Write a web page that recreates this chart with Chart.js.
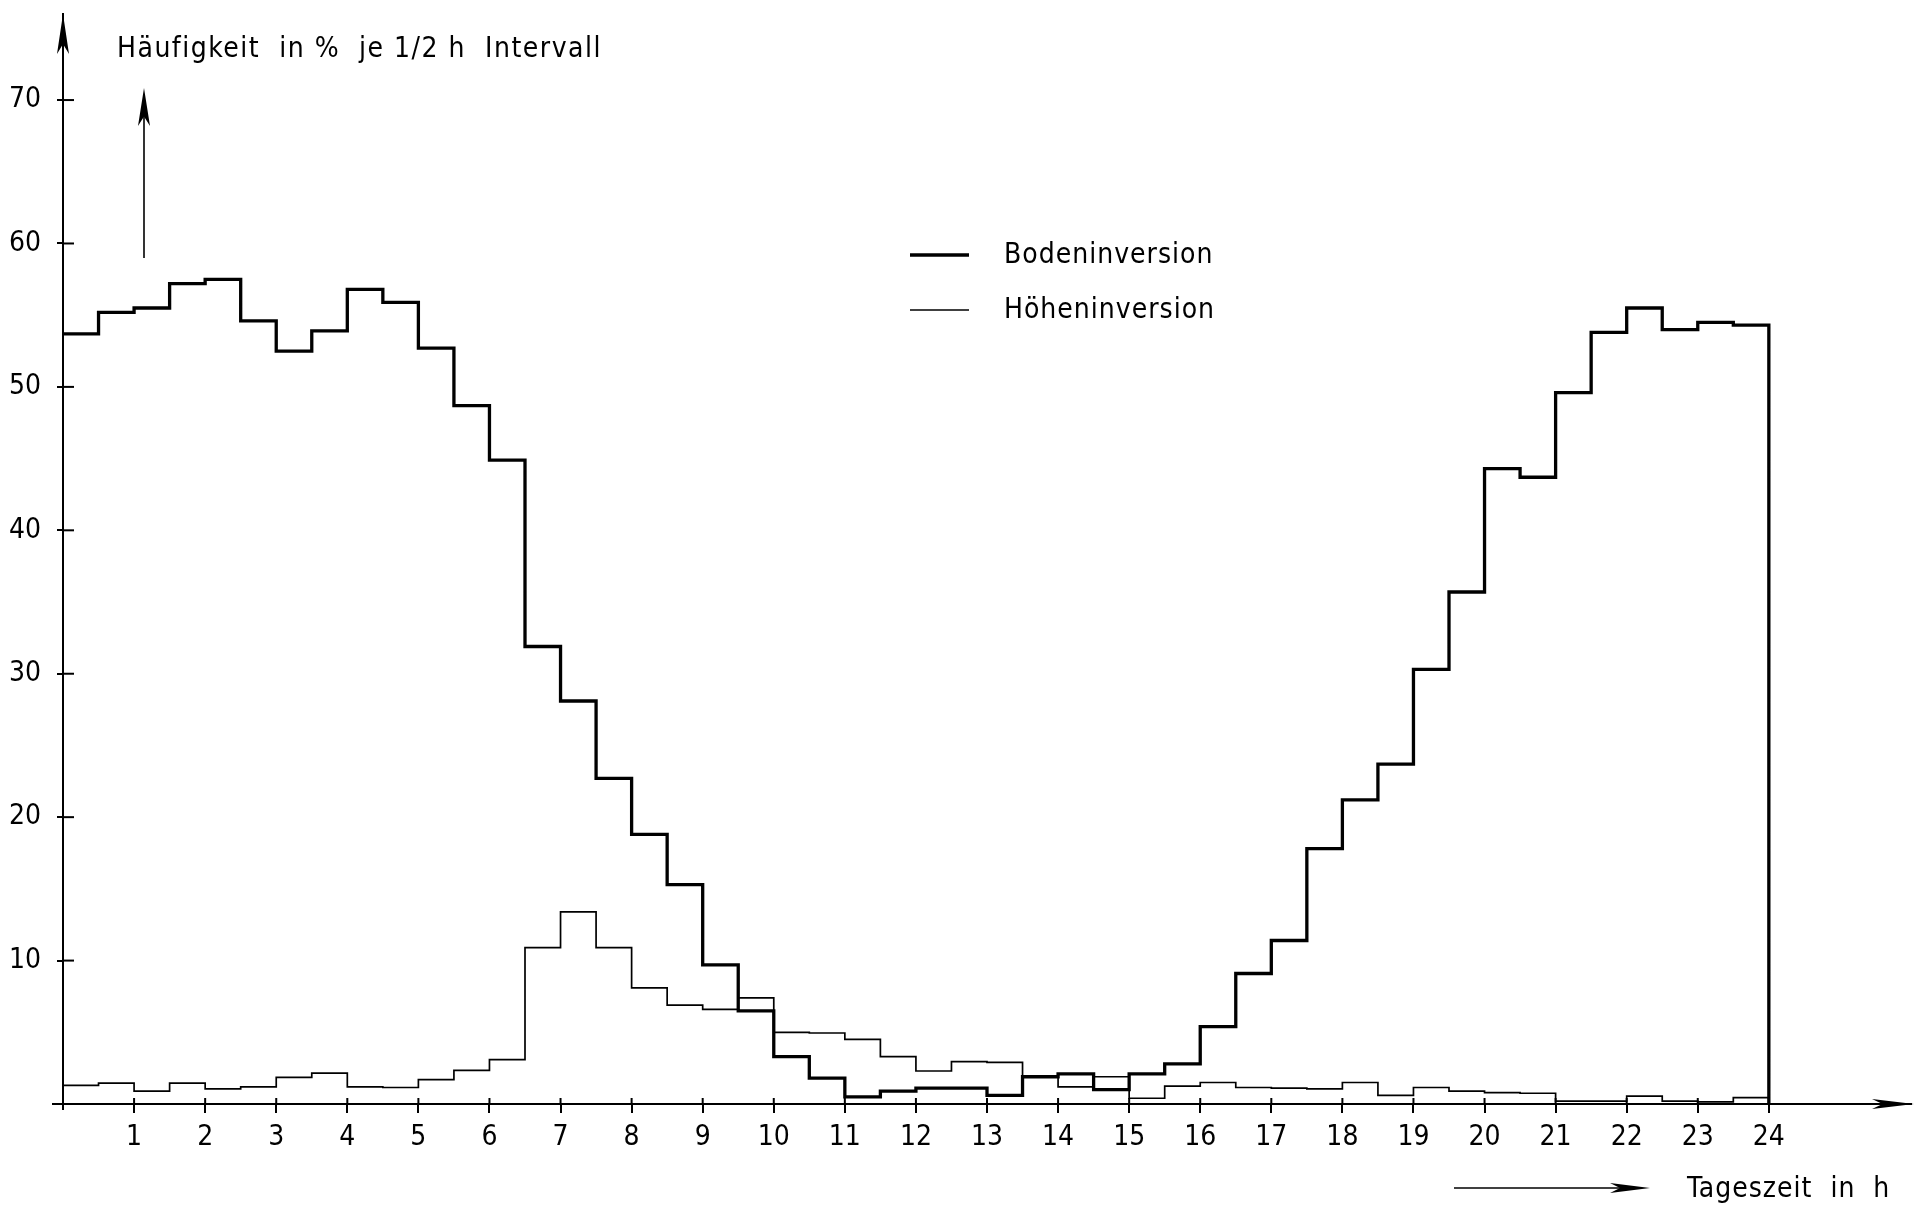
<!DOCTYPE html>
<html>
<head>
<meta charset="utf-8">
<script src="https://cdn.jsdelivr.net/npm/chart.js@4.4.1/dist/chart.umd.min.js"></script>
<style>
  html, body { margin: 0; padding: 0; background: #fff; }
  #wrap { width: 1924px; height: 1208px; }
</style>
</head>
<body>
<div id="wrap"><canvas id="myChart" width="1924" height="1208"></canvas></div>
<script>
// tick labels
const hourTicks = [1, 2, 3, 4, 5, 6, 7, 8, 9, 10, 11, 12, 13, 14, 15, 16, 17, 18, 19, 20, 21, 22, 23, 24];
const percentTicks = [10, 20, 30, 40, 50, 60, 70];

// start of each 1/2 h interval
const intervalStart = [0, 0.5, 1, 1.5, 2, 2.5, 3, 3.5, 4, 4.5, 5, 5.5, 6, 6.5, 7, 7.5, 8, 8.5, 9, 9.5,
    10, 10.5, 11, 11.5, 12, 12.5, 13, 13.5, 14, 14.5, 15, 15.5, 16, 16.5, 17, 17.5, 18, 18.5, 19, 19.5,
    20, 20.5, 21, 21.5, 22, 22.5, 23, 23.5];
const dayEnd = 24;

// Häufigkeit in % je 1/2 h Intervall
const bodeninversion = [53.7, 55.2, 55.5, 57.2, 57.5, 54.6, 52.5, 53.9, 56.8, 55.9, 52.7, 48.7, 44.9, 31.9,
    28.1, 22.7, 18.8, 15.3, 9.7, 6.5, 3.3, 1.8, 0.5, 0.9, 1.1, 1.1, 0.6, 1.9, 2.1, 1.0, 2.1, 2.8, 5.4, 9.1,
    11.4, 17.8, 21.2, 23.7, 30.3, 35.7, 44.3, 43.7, 49.6, 53.8, 55.5, 54.0, 54.5, 54.3];
const hoeheninversion = [1.3, 1.45, 0.9, 1.45, 1.05, 1.2, 1.85, 2.15, 1.2, 1.15, 1.7, 2.35, 3.1, 10.9,
    13.4, 10.9, 8.1, 6.9, 6.6, 7.4, 5.0, 4.95, 4.5, 3.3, 2.3, 2.95, 2.9, 1.9, 1.2, 1.9, 0.4, 1.25, 1.5, 1.15,
    1.1, 1.05, 1.5, 0.6, 1.15, 0.9, 0.8, 0.75, 0.2, 0.2, 0.55, 0.2, 0.15, 0.45];

const FONT = "'Liberation Sans Narrow', 'DejaVu Sans Condensed', 'DejaVu Sans', sans-serif";

function stepData(values) {
    const pts = intervalStart.map((x, i) => ({ x: x, y: values[i] }));
    pts.push({ x: dayEnd, y: values[values.length - 1] });
    pts.push({ x: dayEnd, y: 0 });
    return pts;
}

function arrowHead(ctx, tipX, tipY, dirX, dirY, len, half) {
    const bx = tipX - dirX * len, by = tipY - dirY * len;
    const px = -dirY, py = dirX;
    ctx.beginPath();
    ctx.moveTo(tipX, tipY);
    ctx.lineTo(bx + px * half, by + py * half);
    ctx.lineTo(tipX - dirX * len * 0.75, tipY - dirY * len * 0.75);
    ctx.lineTo(bx - px * half, by - py * half);
    ctx.closePath();
    ctx.fill();
}

// keep the plot area where the paper puts it
function noScalePadding(scale) {
    scale.paddingTop = 0;
    scale.paddingBottom = 0;
    scale.paddingLeft = 0;
    scale.paddingRight = 0;
}

// axes arrows, inner tick halves, texts and legend
const decorations = {
    id: 'decorations',
    afterDraw(chart) {
        const ctx = chart.ctx;
        const xs = chart.scales.x, ys = chart.scales.y;
        const x0 = xs.getPixelForValue(0), y0 = ys.getPixelForValue(0);
        ctx.save();
        ctx.strokeStyle = '#000';
        ctx.fillStyle = '#000';
        ctx.lineWidth = 2;

        // inner halves of the ticks
        percentTicks.forEach(v => {
            const y = ys.getPixelForValue(v);
            ctx.beginPath(); ctx.moveTo(x0, y); ctx.lineTo(x0 + 11, y); ctx.stroke();
        });
        hourTicks.forEach(v => {
            const x = xs.getPixelForValue(v);
            ctx.beginPath(); ctx.moveTo(x, y0); ctx.lineTo(x, y0 - 6); ctx.stroke();
        });

        // x axis a bit left of origin, y axis a bit below, and axis arrows
        ctx.beginPath(); ctx.moveTo(x0 - 11, y0); ctx.lineTo(x0, y0); ctx.stroke();
        ctx.beginPath(); ctx.moveTo(x0, y0); ctx.lineTo(x0, y0 + 6); ctx.stroke();
        arrowHead(ctx, x0, chart.chartArea.top, 0, -1, 40, 6);
        arrowHead(ctx, chart.chartArea.right + 3, y0, 1, 0, 42, 5);

        // arrow next to the y axis
        ctx.lineWidth = 1.6;
        ctx.beginPath(); ctx.moveTo(144, 258); ctx.lineTo(144, 110); ctx.stroke();
        arrowHead(ctx, 144, 88, 0, -1, 38, 6);

        // arrow below the x axis
        ctx.beginPath(); ctx.moveTo(1454, 1188); ctx.lineTo(1620, 1188); ctx.stroke();
        arrowHead(ctx, 1650, 1188, 1, 0, 40, 5);

        // texts
        ctx.font = '28px ' + FONT;
        ctx.textBaseline = 'middle';
        ctx.textAlign = 'left';
        ctx.letterSpacing = '1.5px';
        ctx.fillText('Häufigkeit  in %  je 1/2 h  Intervall', 117, 50);
        ctx.letterSpacing = '1px';
        ctx.fillText('Tageszeit  in  h', 1687, 1190);
        ctx.fillText('Bodeninversion', 1004, 256);
        ctx.fillText('Höheninversion', 1004, 311);

        // legend samples
        ctx.lineWidth = 3.5;
        ctx.beginPath(); ctx.moveTo(910, 255); ctx.lineTo(969, 255); ctx.stroke();
        ctx.lineWidth = 1.6;
        ctx.beginPath(); ctx.moveTo(910, 310); ctx.lineTo(969, 310); ctx.stroke();
        ctx.restore();
    }
};

const data = {
    datasets: [{
        label: 'Höheninversion',
        data: stepData(hoeheninversion),
        borderColor: '#000',
        borderWidth: 1.7,
        stepped: true,
        pointRadius: 0,
        fill: false
    }, {
        label: 'Bodeninversion',
        data: stepData(bodeninversion),
        borderColor: '#000',
        borderWidth: 3.3,
        stepped: true,
        pointRadius: 0,
        fill: false
    }]
};

const config = {
    type: 'line',
    data: data,
    options: {
        responsive: false,
        animation: false,
        layout: { padding: { left: 0, right: 13, top: 14, bottom: 0 } },
        scales: {
            x: {
                type: 'linear',
                min: 0,
                max: 26,
                afterBuildTicks: (scale) => { scale.ticks = hourTicks.map(v => ({ value: v })); },
                afterFit: (scale) => { scale.height = 104; noScalePadding(scale); },
                ticks: {
                    color: '#000',
                    font: { family: FONT, size: 28 },
                    padding: 8,
                    maxRotation: 0,
                    autoSkip: false
                },
                grid: { drawOnChartArea: false, drawTicks: true, tickLength: 9, color: '#000', lineWidth: 2 },
                border: { display: true, color: '#000', width: 2 }
            },
            y: {
                type: 'linear',
                min: 0,
                max: 76,
                afterBuildTicks: (scale) => { scale.ticks = percentTicks.map(v => ({ value: v })); },
                afterFit: (scale) => { scale.width = 63; noScalePadding(scale); },
                ticks: {
                    color: '#000',
                    font: { family: FONT, size: 28 },
                    padding: 16
                },
                grid: { drawOnChartArea: false, drawTicks: true, tickLength: 6, color: '#000', lineWidth: 2 },
                border: { display: true, color: '#000', width: 2 }
            }
        },
        plugins: {
            legend: { display: false },
            tooltip: { enabled: false }
        }
    },
    plugins: [decorations]
};

const myChart = new Chart(document.getElementById('myChart'), config);
</script>
</body>
</html>
